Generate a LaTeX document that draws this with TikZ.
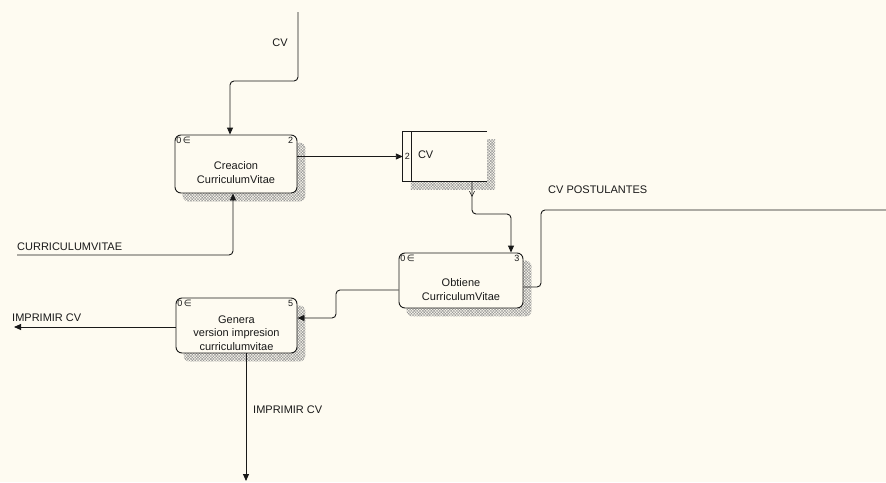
\documentclass[tikz,border=0pt]{standalone}
\usepackage{fontspec}
\setmainfont{Liberation Sans}
\newfontfamily\symfont{DejaVu Sans}
\usetikzlibrary{arrows.meta,patterns.meta,backgrounds}
\definecolor{paper}{RGB}{254,251,241}
\definecolor{hatch}{RGB}{150,150,150}
\definecolor{ink}{RGB}{25,25,25}

\tikzset{
  proc/.style={draw=ink, rounded corners=6pt, fill=paper, line width=0.9pt,
               inner sep=0pt},
  shadowfill/.style={pattern={Hatch[angle=45,distance=2pt,line width=0.45pt]},
                     pattern color=hatch, draw=none},
  flow/.style={draw=ink, line width=0.9pt, rounded corners=4pt,
               -{Triangle[length=7pt,width=6pt]}},
  wire/.style={draw=ink, line width=0.9pt, rounded corners=4pt},
  lbl/.style={font=\fontsize{11}{13.5}\selectfont, inner sep=0pt,
              align=center, text=ink},
  tag/.style={font=\fontsize{9}{10}\selectfont, inner sep=0pt, text=ink},
}

\begin{document}
\begin{tikzpicture}[x=1pt,y=-1pt]
  \useasboundingbox (0,0) rectangle (886,482);

  % processes
  \node[proc, minimum width=122pt, minimum height=58pt] (p2) at (236,164) {};
  \node[proc, minimum width=124pt, minimum height=55pt] (p3) at (461,280.5) {};
  \node[proc, minimum width=121pt, minimum height=55pt] (p5) at (236.5,325.5) {};

  % data store
  \node[inner sep=0pt, minimum width=84pt, minimum height=49pt] (store) at (445,156.5) {};

  % paper and drop shadows
  \begin{scope}[on background layer]
    \fill[paper] (0,0) rectangle (886,482);
    \foreach \b in {p2,p3,p5}
      \path[shadowfill, rounded corners=6pt]
        ([shift={(8pt,-8pt)}]\b.south west) rectangle ([shift={(8pt,-8pt)}]\b.north east);
    \path[shadowfill]
      ([shift={(8pt,-8pt)}]store.south west) rectangle ([shift={(8pt,-8pt)}]store.north east);
    \fill[paper] (store.south west) rectangle (store.north east);
  \end{scope}

  % store outline, open on the right
  \draw[ink, line width=0.9pt] (store.north east) -- (store.north west)
        -- (store.south west) -- (store.south east);
  \draw[ink, line width=0.9pt] ([xshift=9pt]store.north west) -- ([xshift=9pt]store.south west);
  \node[tag] (sid) at ([xshift=4.5pt]store.west) {2};
  \node[lbl, anchor=west] (sname) at ([xshift=15pt,yshift=1.5pt]store.west) {CV};

  % process texts
  \node[lbl] (t2) at ([yshift=-8.5pt]p2.center) {Creacion\\CurriculumVitae};
  \node[lbl] (t3) at ([yshift=-9pt]p3.center) {Obtiene\\CurriculumVitae};
  \node[lbl] (t5) at ([yshift=-7.5pt]p5.center) {Genera\\version impresion\\curriculumvitae};

  \foreach \b/\n in {p2/2,p3/3,p5/5}{
    \node[tag, anchor=north west] at ([shift={(1.5pt,-2.5pt)}]\b.north west) {0\,{\symfont ∈}};
    \node[tag, anchor=north east] at ([shift={(-4pt,-2.5pt)}]\b.north east) {\n};
  }

  % free ends and bends
  \coordinate (cvtop) at (298,12);
  \coordinate (b1) at (230,81);
  \coordinate (b3) at (511,214);
  \coordinate (pin) at (886,210);
  \coordinate (b4) at (541,287);
  \coordinate (b5) at (336,318);
  \coordinate (imp1) at (14,327);
  \coordinate (imp2) at (246,481);
  \coordinate (cin) at (17,255);
  \coordinate (b6) at (233,255);

  % flows
  \draw[flow] (cvtop) |- (b1) -- (b1 |- p2.north);
  \draw[flow] (p2.east |- store.west) -- (store.west);
  \draw[flow] ([xshift=27pt]store.south) |- (b3) -- (b3 |- p3.north);
  \draw[ink, line width=0.6pt] ([shift={(24.5pt,-10pt)}]store.south) -- ([shift={(27pt,-15pt)}]store.south)
        -- ([shift={(29.5pt,-10pt)}]store.south);
  \draw[wire] (pin) -| (b4) -- (b4 -| p3.east);
  \draw[flow] ([yshift=-9.5pt]p3.west) -| (b5) -- (b5 -| p5.east);
  \draw[flow] (p5.west |- imp1) -- (imp1);
  \draw[flow] (p5.south -| imp2) -- (imp2);
  \draw[flow] (cin) -- (b6) -- (b6 |- p2.south);

  % flow labels
  \node[lbl] (l1) at (280,43) {CV};
  \node[lbl, anchor=west] (l2) at (548,190) {CV POSTULANTES};
  \node[lbl, anchor=west] (l3) at (17,247) {CURRICULUMVITAE};
  \node[lbl, anchor=west] (l4) at (12,318) {IMPRIMIR CV};
  \node[lbl, anchor=west] (l5) at (253,410) {IMPRIMIR CV};
\end{tikzpicture}
\end{document}
